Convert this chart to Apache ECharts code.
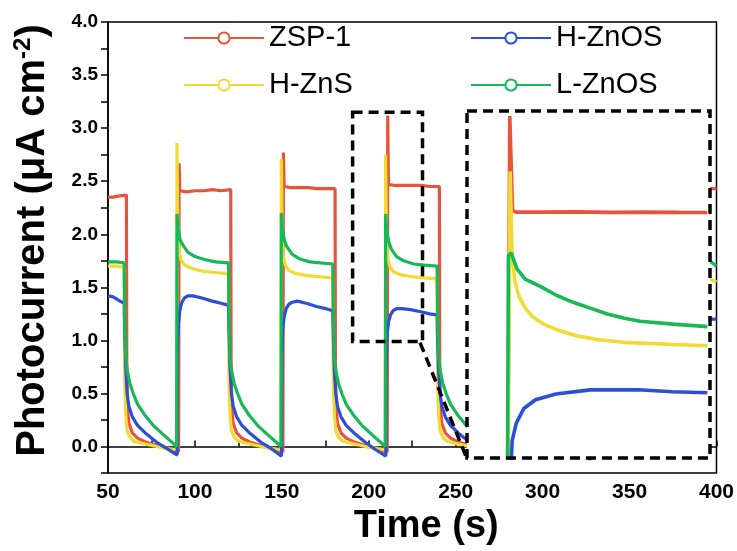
<!DOCTYPE html>
<html><head><meta charset="utf-8">
<script src="https://cdn.jsdelivr.net/npm/echarts@6/dist/echarts.min.js"></script>
<style>html,body{margin:0;padding:0;background:#fff}#c{width:737px;height:551px}</style>
</head><body><div id="c"></div><script>
// ---- axis settings ----
const xRange = [50, 400];
const xStep = 50;
const yRange = [-0.25, 4.0];
const yStep = 0.25;
const insetXRange = [204, 239.5];
const insetYRange = [0.76, 3.145];
const colors = {'ZSP-1': '#E8533A', 'H-ZnS': '#F2DA33', 'H-ZnOS': '#2C4FD7', 'L-ZnOS': '#17B957'};

// ---- main traces [time (s), photocurrent] ----
const zsp1Main = [[50,2.35],[53,2.35],[56,2.36],[60.6,2.37],
[60.8,0.8],[61.2,0.35],[62,0.22],[64,0.13],[67,0.08],[72,0.04],[80,0.0],[86,-0.03],[90.6,-0.05],
[90.9,2.67],[91.3,2.41],[95,2.40],[100,2.41],[105,2.41],[110,2.42],[115,2.41],[120.6,2.42],
[120.8,0.8],[121.2,0.35],[122,0.22],[124,0.13],[127,0.08],[132,0.04],[140,0.0],[146,-0.03],[150.6,-0.05],
[150.9,2.77],[151.3,2.45],[155,2.44],[160,2.44],[165,2.44],[170,2.43],[175,2.43],[180.6,2.43],
[180.8,0.8],[181.2,0.35],[182,0.22],[184,0.13],[187,0.08],[192,0.04],[200,0.0],[206,-0.03],[210.6,-0.05],
[210.9,3.12],[211.3,2.47],[215,2.46],[220,2.46],[225,2.46],[230,2.46],[235,2.45],[240.6,2.45],
[240.8,0.8],[241.2,0.35],[242,0.22],[244,0.13],[247,0.08],[252,0.04],[260,0.0],[266,-0.03],[270.6,-0.05],
[270.9,2.95],[271.3,2.45],[280,2.45],[290,2.44],[300.6,2.44],
[300.8,0.8],[301.2,0.35],[302,0.22],[304,0.13],[307,0.08],[312,0.04],[320,0.0],[326,-0.03],[330.6,-0.05],
[330.9,2.9],[331.3,2.44],[340,2.44],[350,2.43],[360.6,2.43],
[360.8,0.8],[361.2,0.35],[362,0.22],[364,0.13],[367,0.08],[372,0.04],[380,0.0],[386,-0.03],[390.6,-0.05],
[390.9,2.85],[391.3,2.43],[395,2.43],[400,2.43]];

const hznsMain = [[50,1.70],[55,1.70],[59.3,1.69],
[59.6,0.6],[60.2,0.3],[61,0.15],[62.5,0.09],[65,0.05],[70,0.03],[78,0.0],[85,-0.02],[89.5,-0.03],
[89.7,2.86],[90.1,2.1],[90.8,1.85],[92,1.76],[94,1.71],[98,1.68],[105,1.65],[112,1.64],[119.3,1.63],
[119.6,0.6],[120.2,0.3],[121,0.15],[122.5,0.09],[125,0.05],[130,0.03],[138,0.0],[145,-0.02],[149.5,-0.03],
[149.7,2.71],[150.1,2.05],[150.8,1.80],[152,1.71],[154,1.66],[158,1.63],[165,1.61],[172,1.60],[179.3,1.59],
[179.6,0.6],[180.2,0.3],[181,0.15],[182.5,0.09],[185,0.05],[190,0.03],[198,0.0],[205,-0.02],[209.5,-0.03],
[209.7,2.75],[210.1,2.05],[210.8,1.80],[212,1.70],[214,1.65],[218,1.62],[225,1.60],[232,1.59],[239.3,1.58],
[239.6,0.6],[240.2,0.3],[241,0.15],[242.5,0.09],[245,0.05],[250,0.03],[258,0.0],[265,-0.02],[269.5,-0.03],
[269.7,2.7],[270.1,2.0],[270.8,1.78],[272,1.68],[275,1.62],[285,1.58],[299.3,1.57],
[299.6,0.6],[300.2,0.3],[301,0.15],[302.5,0.09],[305,0.05],[310,0.03],[318,0.0],[325,-0.02],[329.5,-0.03],
[329.7,2.7],[330.1,2.0],[330.8,1.78],[332,1.68],[335,1.61],[345,1.57],[359.3,1.56],
[359.6,0.6],[360.2,0.3],[361,0.15],[362.5,0.09],[365,0.05],[370,0.03],[378,0.0],[385,-0.02],[389.5,-0.03],
[389.7,2.7],[390.1,2.0],[390.8,1.76],[392,1.67],[394,1.61],[397,1.57],[400,1.55]];

const hznosMain = [[50,1.42],[53,1.41],[56,1.38],[59.3,1.35],
[59.6,1.1],[60.2,0.75],[61,0.5],[62,0.38],[64,0.28],[67,0.2],[72,0.12],[78,0.04],[84,-0.02],[89.8,-0.08],
[90,0.9],[90.5,1.15],[91.3,1.28],[92.5,1.36],[94,1.40],[96,1.42],[99,1.42],[104,1.40],[110,1.37],[115,1.35],[119.3,1.33],
[119.6,1.1],[120.2,0.75],[121,0.5],[122,0.38],[124,0.28],[127,0.2],[132,0.12],[138,0.04],[144,-0.02],[149.8,-0.09],
[150,0.85],[150.5,1.1],[151.3,1.22],[152.5,1.30],[154,1.34],[156,1.36],[159,1.37],[164,1.35],[170,1.32],[175,1.30],[179.3,1.28],
[179.6,1.05],[180.2,0.72],[181,0.5],[182,0.38],[184,0.28],[187,0.2],[192,0.12],[198,0.04],[204,-0.03],[209.8,-0.09],
[210,0.8],[210.5,1.05],[211.3,1.17],[212.5,1.24],[214,1.28],[216,1.30],[219,1.30],[224,1.29],[230,1.27],[235,1.25],[239.3,1.24],
[239.6,1.0],[240.2,0.7],[241,0.5],[242,0.38],[244,0.28],[247,0.2],[252,0.12],[258,0.04],[264,-0.03],[269.8,-0.07],
[270,0.78],[270.5,1.02],[271.3,1.14],[272.5,1.21],[275,1.26],[280,1.27],[290,1.24],[299.3,1.21],
[299.6,1.0],[300.2,0.7],[301,0.5],[302,0.38],[304,0.28],[307,0.2],[312,0.12],[318,0.04],[324,-0.06],[327,-0.12],[329.8,-0.08],
[330,0.77],[330.5,1.01],[331.3,1.13],[332.5,1.2],[335,1.24],[340,1.25],[350,1.22],[359.3,1.2],
[359.6,1.0],[360.2,0.7],[361,0.5],[362,0.38],[364,0.28],[367,0.2],[372,0.12],[378,0.04],[384,-0.03],[389.8,-0.07],
[390,0.75],[390.5,1.0],[391.3,1.1],[392.5,1.16],[394,1.19],[397,1.2],[400,1.2]];

const lznosMain = [[50,1.74],[55,1.74],[59.3,1.73],
[59.6,1.2],[60.2,0.85],[61,0.72],[62.5,0.6],[64.5,0.5],[67,0.4],[71,0.3],[76,0.2],[82,0.11],[89.5,0.0],
[89.7,2.19],[90.3,2.05],[91.5,1.95],[93,1.90],[96,1.83],[100,1.79],[106,1.76],[112,1.74],[119.3,1.73],
[119.6,1.2],[120.2,0.85],[121,0.72],[122.5,0.6],[124.5,0.5],[127,0.4],[131,0.3],[136,0.2],[142,0.11],[149.5,0.0],
[149.7,2.2],[150.3,2.05],[151.5,1.94],[153,1.88],[156,1.81],[160,1.77],[166,1.74],[172,1.73],[179.3,1.72],
[179.6,1.2],[180.2,0.85],[181,0.72],[182.5,0.6],[184.5,0.5],[187,0.4],[191,0.3],[196,0.2],[202,0.11],[209.5,0.0],
[209.7,2.19],[210.3,2.03],[211.5,1.93],[213,1.86],[216,1.79],[220,1.75],[226,1.72],[232,1.71],[239.3,1.70],
[239.6,1.2],[240.2,0.85],[241,0.72],[242.5,0.6],[244.5,0.5],[247,0.4],[251,0.3],[256,0.2],[262,0.11],[269.5,0.0],
[269.7,2.17],[270.3,2.02],[271.5,1.92],[273,1.85],[276,1.78],[280,1.74],[290,1.71],[299.3,1.70],
[299.6,1.2],[300.2,0.85],[301,0.72],[302.5,0.6],[304.5,0.5],[307,0.4],[311,0.3],[316,0.2],[322,0.11],[329.5,0.0],
[329.7,2.16],[330.3,2.01],[331.5,1.91],[333,1.84],[336,1.77],[340,1.73],[350,1.70],[359.3,1.69],
[359.6,1.2],[360.2,0.85],[361,0.72],[362.5,0.6],[364.5,0.5],[367,0.4],[371,0.3],[376,0.2],[382,0.11],[389.5,0.0],
[389.7,2.15],[390.3,2.0],[391.5,1.9],[393,1.83],[396,1.75],[400,1.70]];

// ---- inset (magnified view of one light-on step) ----
const zsp1Inset = [[209.95,0.5],[210.25,3.11],[210.65,2.46],[211.2,2.45],[215,2.45],[220,2.452],[225,2.448],[230,2.45],[235,2.448],[239.1,2.447]];
const hznsInset = [[209.95,0.5],[210.3,2.73],[210.6,2.15],[211.0,1.97],[211.6,1.87],[212.5,1.79],[213.6,1.73],[215.2,1.68],[217.2,1.64],[220,1.6],[223,1.575],[226.8,1.555],[234.1,1.54],[239.1,1.532]];
const hznosInset = [[210.25,0.5],[210.6,0.88],[211.2,1.0],[212.3,1.1],[214,1.16],[217,1.2],[222,1.228],[229,1.229],[234,1.215],[239.1,1.208]];
const lznosInset = [[209.9,0.5],[210.05,2.15],[210.45,2.17],[211.3,2.06],[212.5,1.99],[214.7,1.94],[217,1.88],[219.5,1.83],[222,1.79],[224.5,1.75],[227,1.72],[229.3,1.70],[234.1,1.68],[239.1,1.663]];

// ---- dashed guide boxes (data coordinates) ----
const zoomBox = [[190.7, 3.15], [230.9, 0.99]];
const connector = [[229.5, 0.98], [256.3, -0.11]];

const FONT = '"Liberation Sans", Arial, sans-serif';
const chart = echarts.init(document.getElementById('c'), null, {renderer: 'canvas'});

function mainSeries(name, data) {
  return {name, type: 'line', xAxisIndex: 0, yAxisIndex: 0, data,
    symbol: 'emptyCircle', symbolSize: 10, showSymbol: false,
    lineStyle: {width: 3.2, color: colors[name]}, itemStyle: {color: colors[name]},
    z: 2, silent: true, emphasis: {disabled: true}};
}
function insetSeries(name, data) {
  return {name, type: 'line', xAxisIndex: 1, yAxisIndex: 1, data,
    symbol: 'emptyCircle', symbolSize: 10, showSymbol: false,
    lineStyle: {width: 3.6, color: colors[name]}, itemStyle: {color: colors[name]},
    z: 4, silent: true, emphasis: {disabled: true}};
}
const dash = [10, 6];
const legendText = {fontSize: 29, color: '#000', fontFamily: FONT, lineHeight: 34};

const option = {
  animation: false,
  grid: [
    {left: 108, top: 22, width: 610, height: 454, show: true, borderColor: '#000', borderWidth: 1.5, backgroundColor: 'rgba(0,0,0,0)'},
    {left: 467, top: 111, width: 243, height: 347, show: true, backgroundColor: '#fff', borderWidth: 0, z: 3}
  ],
  legend: [
    {data: ['ZSP-1', 'H-ZnS'], orient: 'vertical', left: 178, top: 16, itemWidth: 80, itemHeight: 14, itemGap: 13,
     textStyle: legendText, selectedMode: false},
    {data: ['H-ZnOS', 'L-ZnOS'], orient: 'vertical', left: 465, top: 16, itemWidth: 80, itemHeight: 14, itemGap: 13,
     textStyle: legendText, selectedMode: false}
  ],
  xAxis: [
    {type: 'value', gridIndex: 0, min: xRange[0], max: xRange[1], interval: xStep,
     axisLine: {lineStyle: {color: '#000', width: 1.5}},
     axisTick: {inside: true, length: 6, lineStyle: {color: '#000', width: 1.5}},
     minorTick: {show: true, splitNumber: 2, length: 6, lineStyle: {color: '#000', width: 1.5}},
     splitLine: {show: false},
     axisLabel: {fontSize: 21, fontWeight: 'bold', color: '#000', fontFamily: FONT, margin: 9, showMinLabel: true, showMaxLabel: true},
     name: 'Time (s)', nameLocation: 'middle', nameGap: 31,
     nameTextStyle: {fontSize: 38, fontWeight: 'bold', color: '#000', fontFamily: FONT, padding: [0, 0, 0, 28]}},
    {type: 'value', gridIndex: 1, min: insetXRange[0], max: insetXRange[1], show: false}
  ],
  yAxis: [
    {type: 'value', gridIndex: 0, min: yRange[0], max: yRange[1], interval: yStep,
     axisLine: {show: true, lineStyle: {color: '#000', width: 1.5}},
     axisTick: {show: true, inside: false, length: 7, lineStyle: {color: '#000', width: 1.5}},
     splitLine: {show: false},
     axisLabel: {fontSize: 19, fontWeight: 'bold', color: '#000', fontFamily: FONT, margin: 10,
       formatter: v => (Math.round(v * 4) % 2 === 0 ? v.toFixed(1) : '')},
     name: 'Photocurrent (μA cm{sup|-2})', nameLocation: 'middle', nameGap: 53, nameRotate: 90,
     nameTextStyle: {fontSize: 40, fontWeight: 'bold', color: '#000', fontFamily: FONT, lineHeight: 44, padding: [0, 0, 0, 14],
       rich: {sup: {fontSize: 24, fontWeight: 'bold', color: '#000', fontFamily: FONT, verticalAlign: 'top', lineHeight: 44}}}},
    {type: 'value', gridIndex: 1, min: insetYRange[0], max: insetYRange[1], show: false}
  ],
  series: [
    mainSeries('ZSP-1', zsp1Main),
    mainSeries('H-ZnS', hznsMain),
    mainSeries('H-ZnOS', hznosMain),
    mainSeries('L-ZnOS', lznosMain),
    insetSeries('ZSP-1', zsp1Inset),
    insetSeries('H-ZnS', hznsInset),
    insetSeries('H-ZnOS', hznosInset),
    insetSeries('L-ZnOS', lznosInset),
    {type: 'line', xAxisIndex: 0, yAxisIndex: 0, data: [], clip: false, silent: true, z: 5,
     markArea: {silent: true, z: 5, itemStyle: {color: 'rgba(0,0,0,0)', borderColor: '#000', borderWidth: 3.5, borderType: dash},
       data: [[{coord: zoomBox[0]}, {coord: zoomBox[1]}]]},
     markLine: {silent: true, z: 5, symbol: ['none', 'none'], label: {show: false},
       lineStyle: {color: '#000', width: 3.5, type: dash},
       data: [[{coord: connector[0]}, {coord: connector[1]}]]}},
    {type: 'line', xAxisIndex: 1, yAxisIndex: 1, data: [], clip: false, silent: true, z: 6,
     markArea: {silent: true, z: 6, itemStyle: {color: 'rgba(0,0,0,0)', borderColor: '#000', borderWidth: 3.5, borderType: dash},
       data: [[{coord: [insetXRange[0], insetYRange[1]]}, {coord: [insetXRange[1], insetYRange[0]]}]]}}
  ]
};
chart.setOption(option);
</script></body></html>
